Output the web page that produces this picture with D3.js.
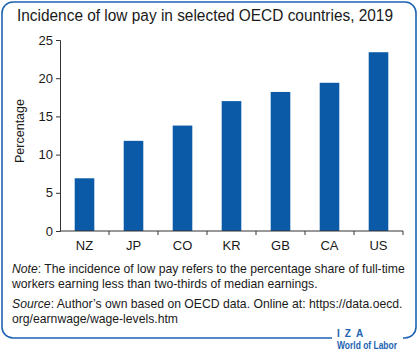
<!DOCTYPE html>
<html>
<head>
<meta charset="utf-8">
<script src="https://cdn.jsdelivr.net/npm/d3@7"></script>
<style>
  body { margin: 0; background: #fff; }
  svg text { font-family: "Liberation Sans", Arial, sans-serif; fill: #1a1a1a; }
</style>
</head>
<body>
<div id="chart"></div>
<script>
// DATA
const countries = ["NZ", "JP", "CO", "KR", "GB", "CA", "US"];
const lowPay = [6.9, 11.8, 13.8, 17.0, 18.2, 19.4, 23.4];
const yTicks = [0, 5, 10, 15, 20, 25];

const W = 418, H = 352;
const blue = "#0a5aa8";

const svg = d3.select("#chart").append("svg")
  .attr("width", W)
  .attr("height", H);

// FRAME (rounded, open at bottom right for the logo)
const r = 11, L = 2, T = 2, R = 416, B = 338;
const framePath = d3.path();
framePath.moveTo(332, B);
framePath.lineTo(L + r, B);
framePath.arcTo(L, B, L, B - r, r);
framePath.lineTo(L, T + r);
framePath.arcTo(L, T, L + r, T, r);
framePath.lineTo(R - r, T);
framePath.arcTo(R, T, R, T + r, r);
framePath.lineTo(R, B - r);
framePath.arcTo(R, B, R - r, B, r);
framePath.lineTo(403, B);
svg.append("path")
  .attr("d", framePath.toString())
  .attr("fill", "none")
  .attr("stroke", "#1d63b3")
  .attr("stroke-width", 1.6);

// TITLE
svg.append("text")
  .attr("x", 17)
  .attr("y", 21)
  .attr("font-size", "16px")
  .attr("textLength", 376)
  .attr("lengthAdjust", "spacingAndGlyphs")
  .text("Incidence of low pay in selected OECD countries, 2019");

// SCALES
const x = d3.scaleBand(countries, [60, 403]).paddingInner(0.6).paddingOuter(0.3);
const y = d3.scaleLinear([0, 25], [231, 40]);

// BARS
svg.append("g")
  .selectAll("rect")
  .data(countries)
  .enter()
  .append("rect")
  .attr("x", d => x(d))
  .attr("width", x.bandwidth())
  .attr("y", (d, i) => y(lowPay[i]))
  .attr("height", (d, i) => y(0) - y(lowPay[i]))
  .attr("fill", blue);

// Y AXIS
const yAxis = svg.append("g")
  .attr("transform", "translate(60,0)")
  .call(d3.axisLeft(y).tickValues(yTicks).tickSize(4).tickPadding(3));
yAxis.select(".domain").attr("stroke", "#333");
yAxis.selectAll(".tick line").attr("stroke", "#333");
yAxis.selectAll(".tick text")
  .attr("font-size", "13px")
  .attr("font-family", "Liberation Sans, Arial, sans-serif")
  .attr("fill", "#1a1a1a");

// X AXIS (ticks at category boundaries)
const step = x.step();
const boundaries = d3.range(countries.length + 1).map(i => 60 + i * step);
const xAxis = svg.append("g").attr("transform", `translate(0,${y(0)})`);
xAxis.append("line")
  .attr("x1", 60).attr("x2", 403)
  .attr("stroke", "#333");
xAxis.selectAll(".bt")
  .data(boundaries.slice(1))
  .enter()
  .append("line")
  .attr("x1", d => d).attr("x2", d => d)
  .attr("y1", 0).attr("y2", 4)
  .attr("stroke", "#333");
xAxis.selectAll(".lbl")
  .data(countries)
  .enter()
  .append("text")
  .attr("x", d => x(d) + x.bandwidth() / 2)
  .attr("y", 19)
  .attr("text-anchor", "middle")
  .attr("font-size", "13px")
  .text(d => d);

// Y AXIS TITLE
svg.append("text")
  .attr("transform", "translate(24,131) rotate(-90)")
  .attr("text-anchor", "middle")
  .attr("font-size", "12.5px")
  .text("Percentage");

// NOTE AND SOURCE
const notes = [
  { y: 273, w: 393, parts: [["Note", true], [": The incidence of low pay refers to the percentage share of full-time", false]] },
  { y: 288, w: 0, parts: [["workers earning less than two-thirds of median earnings.", false]] },
  { y: 308, w: 391, parts: [["Source", true], [": Author\u2019s own based on OECD data. Online at: https://data.oecd.", false]] },
  { y: 323, w: 0, parts: [["org/earnwage/wage-levels.htm", false]] }
];
notes.forEach(n => {
  const t = svg.append("text")
    .attr("x", 12)
    .attr("y", n.y)
    .attr("font-size", "12.2px");
  n.parts.forEach(p => {
    t.append("tspan")
      .attr("font-style", p[1] ? "italic" : "normal")
      .text(p[0]);
  });
});

// IZA LOGO
svg.append("text")
  .attr("x", 337)
  .attr("y", 337)
  .attr("font-size", "10px")
  .attr("font-weight", "bold")
  .attr("letter-spacing", "5px")
  .style("fill", "#1d63b3")
  .text("IZA");
svg.append("text")
  .attr("x", 337)
  .attr("y", 349)
  .attr("font-size", "10.5px")
  .attr("font-weight", "bold")
  .attr("textLength", 60)
  .attr("lengthAdjust", "spacingAndGlyphs")
  .style("fill", "#1d63b3")
  .text("World of Labor");
</script>
</body>
</html>
